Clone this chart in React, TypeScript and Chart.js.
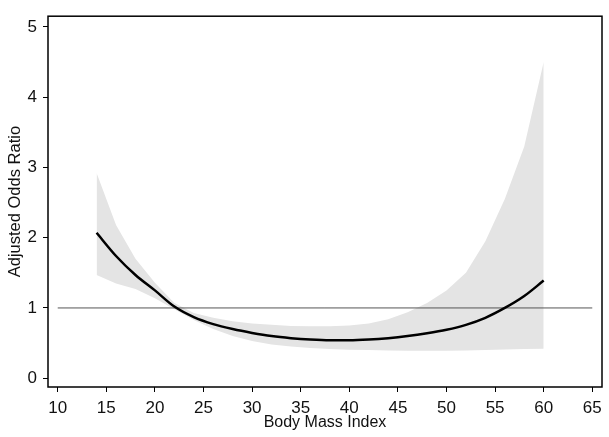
import { useEffect, useRef } from "react";
import { Chart, registerables } from "chart.js";

Chart.register(...registerables);

const bmi = [14, 16, 18, 20, 22, 24, 26, 28, 30, 32, 34, 36, 38, 40, 42, 44, 46, 48, 50, 52, 54, 56, 58, 60];
const oddsRatio = [2.07, 1.74, 1.47, 1.25, 1.02, 0.87, 0.77, 0.7, 0.645, 0.6, 0.57, 0.55, 0.54, 0.54, 0.55, 0.57, 0.6, 0.64, 0.69, 0.76, 0.86, 1.0, 1.17, 1.39];
const upperCI = [2.92, 2.18, 1.7, 1.36, 1.07, 0.93, 0.86, 0.81, 0.78, 0.76, 0.745, 0.74, 0.74, 0.75, 0.78, 0.84, 0.94, 1.07, 1.25, 1.5, 1.95, 2.55, 3.3, 4.5];
const lowerCI = [1.47, 1.35, 1.27, 1.14, 0.98, 0.83, 0.7, 0.6, 0.53, 0.48, 0.45, 0.43, 0.415, 0.405, 0.4, 0.395, 0.39, 0.39, 0.39, 0.395, 0.4, 0.41, 0.415, 0.42];
const refLineX = [10, 65];
const refLineY = [1, 1];
const xTicks = [10, 15, 20, 25, 30, 35, 40, 45, 50, 55, 60, 65];
const yTicks = [0, 1, 2, 3, 4, 5];
const xTitle = "Body Mass Index";
const yTitle = "Adjusted Odds Ratio";

const FONT = "'Liberation Sans', Arial, Helvetica, sans-serif";

const framePlugin = {
  id: "frame",
  afterDatasetsDraw(chart: any) {
    const { ctx, chartArea } = chart;
    ctx.save();
    ctx.strokeStyle = "#000";
    ctx.lineWidth = 1.5;
    ctx.strokeRect(chartArea.left, chartArea.top, chartArea.right - chartArea.left, chartArea.bottom - chartArea.top);
    ctx.restore();
  },
};

export default function App() {
  const ref = useRef<HTMLCanvasElement | null>(null);
  useEffect(() => {
    if (!ref.current) return;
    const pts = (xs: number[], ys: number[]) => xs.map((x, i) => ({ x, y: ys[i] }));
    const chart = new Chart(ref.current, {
      type: "line",
      data: {
        datasets: [
          {
            label: "lower",
            data: pts(bmi, lowerCI),
            borderWidth: 0,
            borderColor: "rgba(0,0,0,0)",
            pointRadius: 0,
            fill: false,
            order: 4,
          },
          {
            label: "upper",
            data: pts(bmi, upperCI),
            borderWidth: 0,
            borderColor: "rgba(0,0,0,0)",
            backgroundColor: "rgb(228,228,228)",
            pointRadius: 0,
            fill: "-1",
            order: 3,
          },
          {
            label: "ref",
            data: pts(refLineX, refLineY),
            borderWidth: 1,
            borderColor: "#555",
            pointRadius: 0,
            fill: false,
            order: 2,
          },
          {
            label: "or",
            data: pts(bmi, oddsRatio),
            borderWidth: 2.5,
            borderColor: "#000",
            pointRadius: 0,
            fill: false,
            cubicInterpolationMode: "monotone",
            order: 1,
          },
        ],
      },
      options: {
        animation: false,
        responsive: false,
        maintainAspectRatio: false,
        layout: { padding: { top: 8, right: 7, left: 0, bottom: 0 } },
        plugins: { legend: { display: false }, tooltip: { enabled: false } },
        scales: {
          x: {
            type: "linear",
            min: 9,
            max: 66,
            afterBuildTicks: (s: any) => {
              s.ticks = xTicks.map((v) => ({ value: v }));
            },
            afterFit: (s: any) => {
              s.height = 50;
            },
            border: { display: false },
            grid: { drawOnChartArea: false, drawTicks: true, tickLength: 5, color: "#000", tickColor: "#000" },
            ticks: { color: "#111", font: { family: FONT, size: 17 }, padding: 6, maxRotation: 0, autoSkip: false },
            title: { display: true, text: xTitle, color: "#111", font: { family: FONT, size: 16 }, padding: { top: 0, bottom: 5 } },
          },
          y: {
            type: "linear",
            min: -0.125,
            max: 5.153,
            afterBuildTicks: (s: any) => {
              s.ticks = yTicks.map((v) => ({ value: v }));
            },
            afterFit: (s: any) => {
              s.width = 48;
            },
            border: { display: false },
            grid: { drawOnChartArea: false, drawTicks: true, tickLength: 5, color: "#000", tickColor: "#000" },
            ticks: { color: "#111", font: { family: FONT, size: 17 }, padding: 6, autoSkip: false },
            title: { display: true, text: yTitle, color: "#111", font: { family: FONT, size: 16.5 }, padding: { top: 6, bottom: 0 } },
          },
        },
      },
      plugins: [framePlugin],
    } as any);
    return () => chart.destroy();
  }, []);
  return (
    <div style={{ position: "fixed", left: 0, top: 0, width: 609, height: 437, background: "#fff" }}>
      <canvas ref={ref} width={609} height={437} style={{ width: 609, height: 437, display: "block" }} />
    </div>
  );
}
